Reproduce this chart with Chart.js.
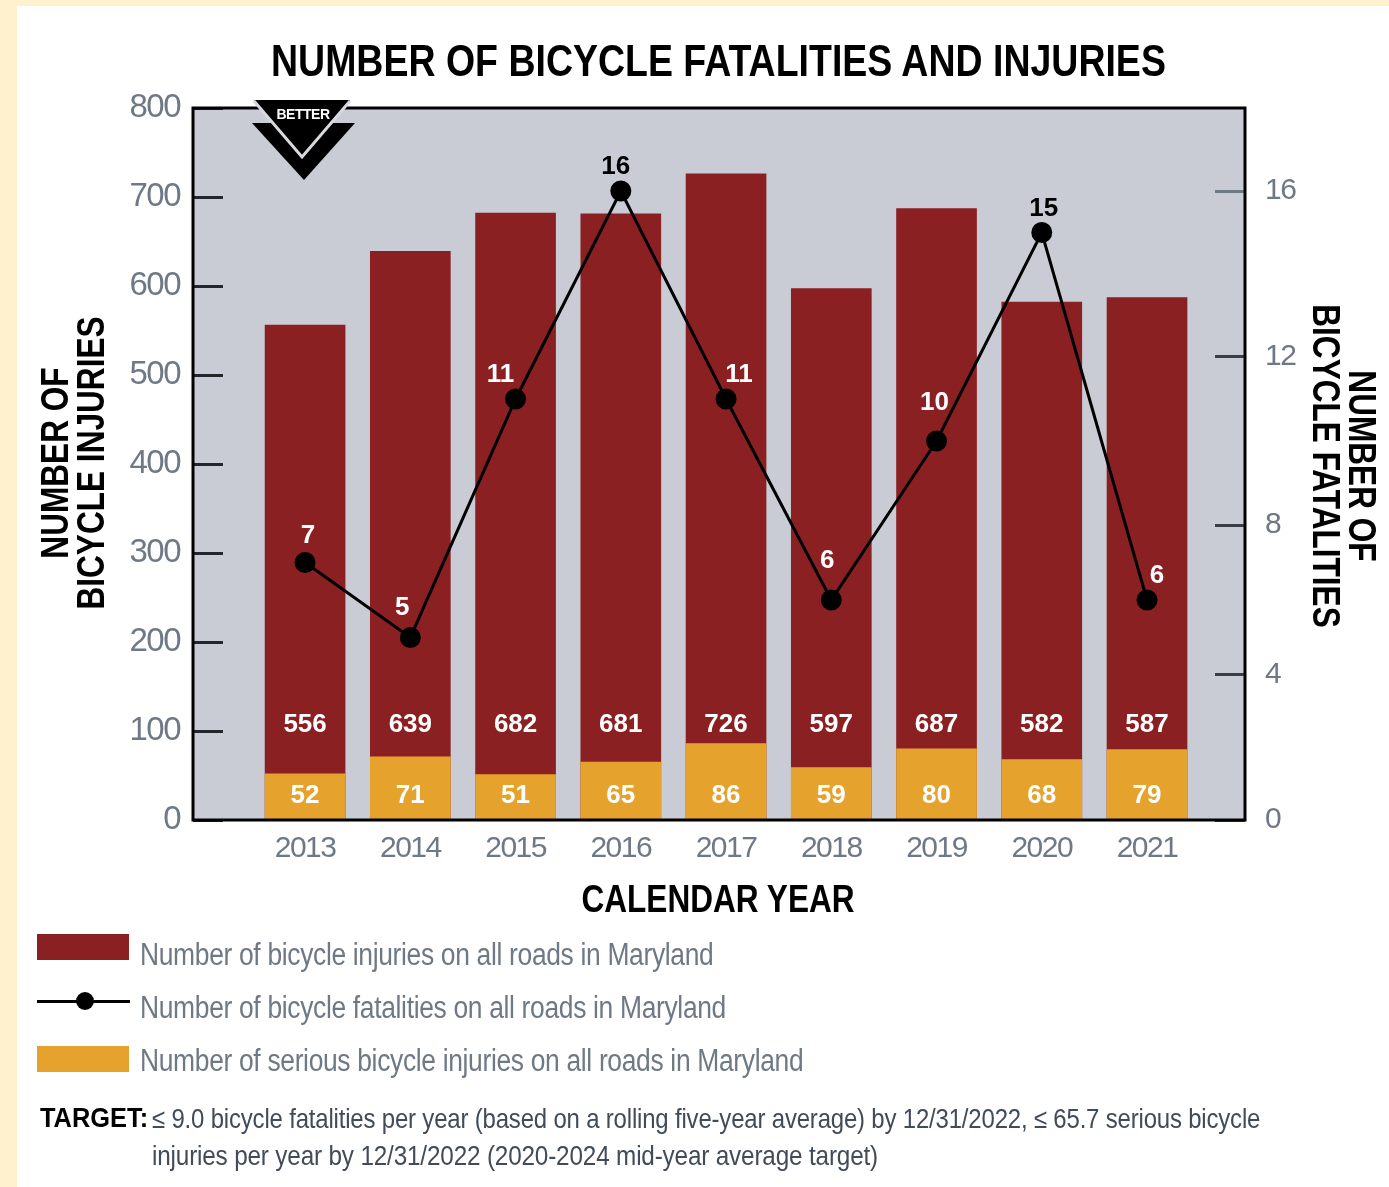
<!DOCTYPE html>
<html>
<head>
<meta charset="utf-8">
<title>Number of bicycle fatalities and injuries</title>
<script src="https://cdn.jsdelivr.net/npm/chart.js@4"></script>
<style>
  html, body { margin: 0; padding: 0; background: #fff1cd; }
  #page { position: relative; width: 1389px; height: 1187px; overflow: hidden; }
  #panel { position: absolute; left: 17px; top: 6px; right: 0; bottom: 0; background: #fff; }
  #chart { position: absolute; left: 0; top: 0; }
  .txt { position: absolute; white-space: nowrap; line-height: 1; font-family: "Liberation Sans", sans-serif; transform-origin: 0 50%; }
  #title { left: 271px; top: 39px; font-size: 44px; font-weight: bold; color: #000; transform: scaleX(0.852); }
  .leg { left: 140px; font-size: 31px; color: #6f7985; letter-spacing: -0.4px; transform: scaleX(0.853); }
  .swatch { position: absolute; left: 37px; width: 92px; height: 26px; }
  #legline { position: absolute; left: 37px; top: 1000px; width: 93px; height: 3px; background: #000; }
  #legdot { position: absolute; left: 76px; top: 992px; width: 18px; height: 18px; border-radius: 50%; background: #000; }
  .target { font-size: 27.5px; color: #414b59; letter-spacing: -0.2px; transform: scaleX(0.884); }
  #tlabel { left: 40px; top: 1105px; font-size: 27px; font-weight: bold; color: #000; transform: scaleX(0.94); }
  .axt { position: absolute; white-space: nowrap; line-height: 1; font-family: "Liberation Sans", sans-serif; font-weight: bold; font-size: 39px; color: #000; }
  .up { transform: translate(-50%, -50%) rotate(-90deg) scaleX(0.81); }
  .down { transform: translate(-50%, -50%) rotate(90deg) scaleX(0.81); }
  .flat { transform: translate(-50%, -50%) scaleX(0.81); }
</style>
</head>
<body>
<div id="page">
  <div id="panel"></div>
  <canvas id="chart" width="1389" height="1187"></canvas>
  <div class="txt" id="title">NUMBER OF BICYCLE FATALITIES AND INJURIES</div>
  <div class="axt up" style="left:54px;top:463px">NUMBER OF</div>
  <div class="axt up" style="left:90px;top:463px">BICYCLE INJURIES</div>
  <div class="axt down" style="left:1326px;top:466px">BICYCLE FATALITIES</div>
  <div class="axt down" style="left:1362px;top:466px">NUMBER OF</div>
  <div class="axt flat" style="left:718px;top:898px">CALENDAR YEAR</div>
  <div class="swatch" style="top:934px;background:#8b2023"></div>
  <div class="txt leg" style="top:939px">Number of bicycle injuries on all roads in Maryland</div>
  <div id="legline"></div><div id="legdot"></div>
  <div class="txt leg" style="top:992px">Number of bicycle fatalities on all roads in Maryland</div>
  <div class="swatch" style="top:1046px;background:#e5a32e"></div>
  <div class="txt leg" style="top:1045px">Number of serious bicycle injuries on all roads in Maryland</div>
  <div class="txt" id="tlabel">TARGET:</div>
  <div class="txt target" style="left:152px;top:1105px;transform:scaleX(0.871)">≤ 9.0 bicycle fatalities per year (based on a rolling five-year average) by 12/31/2022, ≤ 65.7 serious bicycle</div>
  <div class="txt target" style="left:152px;top:1142px">injuries per year by 12/31/2022 (2020-2024 mid-year average target)</div>
</div>

<script>
// 图表数据
const years = [2013, 2014, 2015, 2016, 2017, 2018, 2019, 2020, 2021];
const injuries = [556, 639, 682, 681, 726, 597, 687, 582, 587];
const seriousInjuries = [52, 71, 51, 65, 86, 59, 80, 68, 79];
const fatalities = [7, 5, 11, 16, 11, 6, 10, 15, 6];
const leftTicks = [0, 100, 200, 300, 400, 500, 600, 700, 800];
const rightTicks = [0, 4, 8, 12, 16];

// 右轴刻度在原图里间距不均，这里按原图比例换算
const rightTickHeights = [0, 0.2037, 0.4143, 0.6503, 0.8834];
const fatalityLabelNudge = [[3, -27], [-8, -30], [-15, -24], [-5, -24], [13, -24], [-4, -39], [-2, -38], [2, -24], [10, -24]];

class UnevenScale extends Chart.LinearScale {
  getPixelForValue(value) {
    let i = rightTicks.findIndex(t => t >= value);
    if (i < 0) i = rightTicks.length - 1;
    if (i === 0) i = 1;
    const share = (value - rightTicks[i - 1]) / (rightTicks[i] - rightTicks[i - 1]);
    const h = rightTickHeights[i - 1] + share * (rightTickHeights[i] - rightTickHeights[i - 1]);
    return this.bottom - h * this.height;
  }
}
UnevenScale.id = 'uneven';
UnevenScale.defaults = Chart.LinearScale.defaults;
Chart.register(UnevenScale);

const INK = '#000';
const TICK_GREY = '#6f7985';
const SANS = '"Liberation Sans", sans-serif';

// 灰色绘图区底色，顺便收紧刻度文字
const plotBackground = {
  id: 'plotBackground',
  beforeDraw(chart) {
    const { ctx, chartArea: a } = chart;
    ctx.fillStyle = '#c9ccd4';
    ctx.fillRect(a.left, a.top, a.right - a.left, a.bottom - a.top);
    ctx.letterSpacing = '-1.5px';
  }
};

// 边框、数值标签和 BETTER 标记
const overlay = {
  id: 'overlay',
  afterDraw(chart) {
    const { ctx, chartArea: a, scales } = chart;
    ctx.save();
    ctx.letterSpacing = '0px';
    ctx.strokeStyle = INK;
    ctx.lineWidth = 3;
    ctx.strokeRect(a.left, a.top, a.right - a.left, a.bottom - a.top);

    ctx.textAlign = 'center';
    ctx.textBaseline = 'middle';
    ctx.font = 'bold 26px ' + SANS;
    ctx.fillStyle = '#fff';
    years.forEach((y, i) => {
      const x = scales.x.getPixelForValue(y);
      ctx.fillText(injuries[i], x, a.bottom - 95);
      ctx.fillText(seriousInjuries[i], x, a.bottom - 24);
    });
    fatalities.forEach((f, i) => {
      const x = scales.x.getPixelForValue(years[i]);
      const [dx, dy] = fatalityLabelNudge[i];
      ctx.fillStyle = f >= 15 ? INK : '#fff';
      ctx.fillText(f, x + dx, scales.y1.getPixelForValue(f) + dy);
    });

    // BETTER 箭头
    ctx.fillStyle = INK;
    ctx.beginPath();
    ctx.moveTo(252, 123); ctx.lineTo(355, 123); ctx.lineTo(304, 180);
    ctx.closePath();
    ctx.fill();
    ctx.beginPath();
    ctx.moveTo(254, 100); ctx.lineTo(350, 100); ctx.lineTo(302, 157);
    ctx.closePath();
    ctx.fill();
    ctx.strokeStyle = '#d8dae0';
    ctx.lineWidth = 3;
    ctx.beginPath();
    ctx.moveTo(254, 101); ctx.lineTo(302, 157); ctx.lineTo(350, 101);
    ctx.stroke();
    ctx.fillStyle = '#fff';
    ctx.letterSpacing = '-0.5px';
    ctx.font = 'bold 14px ' + SANS;
    ctx.fillText('BETTER', 303, 115);
    ctx.restore();
  }
};

new Chart(document.getElementById('chart'), {
  data: {
    datasets: [
      {
        type: 'line',
        label: 'Number of bicycle fatalities on all roads in Maryland',
        data: years.map((y, i) => ({ x: y, y: fatalities[i] })),
        yAxisID: 'y1',
        order: 0,
        borderColor: INK,
        backgroundColor: INK,
        borderWidth: 3,
        pointRadius: 9,
        tension: 0
      },
      {
        type: 'bar',
        label: 'Number of serious bicycle injuries on all roads in Maryland',
        data: years.map((y, i) => ({ x: y, y: seriousInjuries[i] })),
        yAxisID: 'y',
        order: 1,
        grouped: false,
        barThickness: 80,
        backgroundColor: '#e5a32e'
      },
      {
        type: 'bar',
        label: 'Number of bicycle injuries on all roads in Maryland',
        data: years.map((y, i) => ({ x: y, y: injuries[i] })),
        yAxisID: 'y',
        order: 2,
        grouped: false,
        barThickness: 80,
        backgroundColor: '#8b2023'
      }
    ]
  },
  options: {
    responsive: false,
    animation: false,
    layout: { padding: { left: 30, top: 108, right: 0, bottom: 287 } },
    plugins: { legend: { display: false }, title: { display: false }, tooltip: { enabled: false } },
    scales: {
      x: {
        type: 'linear',
        offset: false,
        min: 2011.935,
        max: 2021.931,
        afterBuildTicks: s => { s.ticks = years.map(v => ({ value: v })); },
        afterFit: s => { s.height = 80; },
        grid: { display: false },
        border: { display: false },
        ticks: {
          callback: v => String(v),
          color: TICK_GREY,
          font: { family: SANS, size: 30 },
          padding: 3,
          maxRotation: 0,
          autoSkip: false
        }
      },
      y: {
        position: 'left',
        min: 0,
        max: 800,
        afterBuildTicks: s => { s.ticks = leftTicks.map(v => ({ value: v })); },
        afterFit: s => { s.width = 163; },
        grid: { drawOnChartArea: false, tickLength: -30, tickColor: '#23272c', tickWidth: 3 },
        border: { display: false },
        ticks: { color: TICK_GREY, font: { family: SANS, size: 33 }, padding: 43 }
      },
      y1: {
        type: 'uneven',
        position: 'right',
        min: 0,
        max: 18,
        afterBuildTicks: s => { s.ticks = rightTicks.map(v => ({ value: v })); },
        afterFit: s => { s.width = 144; },
        grid: { drawOnChartArea: false, tickLength: -30, tickColor: c => c.tick && c.tick.value === 16 ? '#6f7985' : '#3a3f46', tickWidth: 3 },
        border: { display: false },
        ticks: { color: TICK_GREY, font: { family: SANS, size: 30 }, padding: 50 }
      }
    }
  },
  plugins: [plotBackground, overlay]
});
</script>
</body>
</html>
